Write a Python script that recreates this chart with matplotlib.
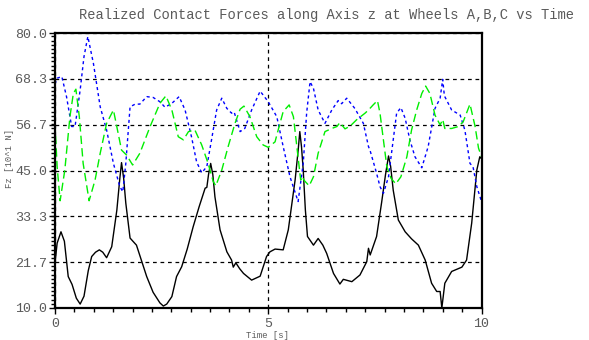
import matplotlib
matplotlib.use("Agg")
import matplotlib.pyplot as plt
from matplotlib.ticker import FixedLocator, AutoMinorLocator, FormatStrFormatter

# Time samples [s] and contact forces [10^1 N]
t_a = [0.00, 0.05, 0.14, 0.22, 0.31, 0.40, 0.50, 0.59, 0.68, 0.78, 0.86, 0.95, 1.04, 1.12,
       1.21, 1.33, 1.45, 1.52, 1.56, 1.61, 1.66, 1.76, 1.91, 2.03, 2.15, 2.30, 2.46, 2.54,
       2.62, 2.74, 2.85, 2.97, 3.10, 3.24, 3.38, 3.52, 3.56, 3.60, 3.65, 3.70, 3.75, 3.87,
       4.03, 4.14, 4.18, 4.24, 4.33, 4.42, 4.61, 4.81, 4.96, 5.04, 5.16, 5.35, 5.47, 5.63,
       5.70, 5.74, 5.78, 5.82, 5.87, 5.92, 6.06, 6.17, 6.28, 6.37, 6.53, 6.68, 6.76, 6.96,
       7.15, 7.31, 7.35, 7.39, 7.54, 7.66, 7.75, 7.82, 7.87, 7.93, 8.05, 8.21, 8.36, 8.52,
       8.68, 8.83, 8.95, 9.03, 9.07, 9.14, 9.30, 9.54, 9.65, 9.77, 9.89, 9.96, 10.00]
fz_a = [21.5, 26.5, 29.4, 27.0, 18.0, 16.0, 12.5, 11.0, 13.0, 19.5, 23.1, 24.2, 24.8, 24.2,
        22.8, 25.6, 34.9, 43.0, 47.0, 43.0, 36.7, 27.8, 26.0, 22.0, 18.0, 14.0, 11.3, 10.5,
        11.0, 12.9, 18.0, 20.5, 25.0, 30.7, 35.8, 40.5, 40.7, 44.0, 46.8, 44.0, 38.3, 29.9,
        24.3, 22.2, 20.4, 21.5, 20.0, 18.8, 17.1, 18.1, 23.1, 24.3, 25.0, 24.8, 29.9, 42.6,
        50.0, 54.9, 51.0, 45.1, 35.0, 28.2, 26.0, 27.7, 26.0, 23.9, 18.8, 16.1, 17.3, 16.7,
        18.4, 21.8, 25.2, 23.5, 28.2, 37.0, 44.0, 48.7, 46.0, 40.0, 32.4, 29.4, 27.6, 26.0,
        22.2, 16.3, 14.2, 14.2, 10.0, 16.3, 19.3, 20.4, 22.2, 31.6, 45.1, 48.5, 48.0]

t_b = [0.00, 0.05, 0.16, 0.27, 0.39, 0.47, 0.59, 0.68, 0.77, 0.90, 1.06, 1.21, 1.37, 1.52,
       1.59, 1.66, 1.76, 1.88, 1.99, 2.15, 2.30, 2.46, 2.58, 2.74, 2.91, 3.05, 3.20, 3.32,
       3.44, 3.56, 3.67, 3.79, 3.91, 4.03, 4.14, 4.20, 4.34, 4.45, 4.61, 4.81, 5.00, 5.20,
       5.35, 5.51, 5.70, 5.82, 5.90, 5.98, 6.06, 6.17, 6.33, 6.49, 6.64, 6.72, 6.84, 7.03,
       7.23, 7.35, 7.39, 7.54, 7.62, 7.70, 7.82, 7.93, 8.01, 8.11, 8.21, 8.32, 8.44, 8.60,
       8.75, 8.91, 9.03, 9.09, 9.13, 9.30, 9.50, 9.61, 9.73, 9.80, 9.89, 10.00]
fz_b = [67.0, 68.5, 68.9, 63.8, 56.2, 56.2, 65.5, 74.0, 79.1, 72.3, 61.2, 55.3, 46.8, 40.9,
        39.6, 46.8, 61.2, 61.9, 61.9, 63.8, 63.6, 62.5, 61.1, 62.1, 63.8, 60.4, 53.6, 47.2,
        44.4, 46.0, 52.8, 60.4, 63.4, 60.8, 59.6, 59.9, 54.9, 55.7, 60.4, 65.2, 62.5, 58.7,
        51.1, 43.4, 37.1, 46.8, 59.6, 67.6, 65.9, 60.4, 57.0, 60.4, 62.8, 62.0, 63.4, 60.8,
        57.0, 51.1, 50.0, 44.3, 40.9, 39.2, 43.4, 52.8, 59.6, 61.0, 58.3, 52.8, 48.5, 45.7,
        51.1, 60.8, 63.4, 68.2, 64.0, 60.4, 59.1, 55.3, 46.8, 46.0, 40.9, 37.1]

t_c = [0.00, 0.05, 0.12, 0.23, 0.35, 0.43, 0.49, 0.57, 0.66, 0.80, 0.94, 1.06, 1.21, 1.37,
       1.48, 1.56, 1.68, 1.82, 1.99, 2.23, 2.46, 2.60, 2.74, 2.89, 3.01, 3.13, 3.28, 3.44,
       3.59, 3.71, 3.77, 3.91, 4.06, 4.22, 4.34, 4.43, 4.57, 4.73, 4.88, 5.00, 5.16, 5.20,
       5.35, 5.49, 5.59, 5.68, 5.76, 5.80, 5.84, 5.96, 6.06, 6.17, 6.33, 6.49, 6.61, 6.68,
       6.80, 6.92, 7.07, 7.27, 7.35, 7.46, 7.56, 7.62, 7.70, 7.78, 7.88, 7.99, 8.11, 8.25,
       8.36, 8.48, 8.60, 8.69, 8.79, 8.91, 9.03, 9.09, 9.14, 9.30, 9.46, 9.57, 9.73, 9.85,
       9.93, 10.00]
fz_c = [57.0, 46.0, 37.3, 45.1, 58.7, 64.6, 65.7, 58.7, 46.8, 37.3, 42.6, 49.4, 57.0, 60.4,
        54.5, 50.2, 48.9, 46.4, 49.4, 56.2, 62.1, 64.0, 60.4, 53.6, 52.8, 54.9, 55.3, 51.5,
        46.8, 42.2, 41.1, 45.1, 51.1, 57.0, 60.6, 61.4, 58.7, 53.6, 51.5, 50.9, 52.3, 54.0,
        60.0, 61.7, 58.7, 50.2, 42.6, 43.5, 42.5, 41.1, 43.4, 49.4, 54.9, 55.7, 56.2, 57.2,
        55.6, 56.3, 57.9, 59.6, 60.4, 61.7, 62.8, 59.6, 52.8, 46.0, 43.0, 41.6, 43.4, 48.5,
        55.3, 60.4, 64.6, 66.5, 64.6, 59.1, 56.6, 58.0, 55.7, 55.7, 56.2, 57.4, 61.9, 56.2,
        50.7, 48.5]

y_ticks = [10.0, 21.7, 33.3, 45.0, 56.7, 68.3, 80.0]
x_ticks = [0, 5, 10]

plt.rcParams['font.family'] = ['Liberation Mono', 'DejaVu Sans Mono']
text_gray = '#5a5a5a'

fig = plt.figure(figsize=(5.89, 3.40), dpi=100)
ax = fig.add_axes([55 / 589, 32 / 340, 426.5 / 589, 275 / 340])

ax.plot(t_a, fz_a, color='black', lw=1.0, solid_joinstyle='round', zorder=3)
ax.plot(t_b, fz_b, color='#0000ff', lw=1.0, linestyle=(0, (2.2, 2.2)), zorder=3)
ax.plot(t_c, fz_c, color='#00ee00', lw=1.0, linestyle=(0, (6, 3)), zorder=3)

ax.set_xlim(0, 10)
ax.set_ylim(10, 80)
ax.xaxis.set_major_locator(FixedLocator(x_ticks))
ax.yaxis.set_major_locator(FixedLocator(y_ticks))
ax.xaxis.set_major_formatter(FormatStrFormatter('%d'))
ax.yaxis.set_major_formatter(FormatStrFormatter('%.1f'))
ax.xaxis.set_minor_locator(AutoMinorLocator(11))
ax.yaxis.set_minor_locator(AutoMinorLocator(11))

ax.grid(True, which='major', color='black', linestyle=(0, (3, 3)), lw=0.9, zorder=1)
for s in ax.spines.values():
    s.set_linewidth(1.6)
    s.set_zorder(4)

ax.tick_params(which='both', direction='out', colors='black', labelcolor=text_gray,
               labelsize=9.6, width=1.0)
ax.tick_params(which='major', length=4, pad=1.5)
ax.tick_params(which='minor', length=3)
ax.tick_params(axis='x', pad=3)

fig.text(79 / 589, 1 - 15 / 340, 'Realized Contact Forces along Axis z at Wheels A,B,C vs Time',
         ha='left', va='center', fontsize=9.9, color=text_gray)
fig.text(268 / 589, 1 - 336 / 340, 'Time [s]', ha='center', va='center',
         fontsize=6.4, color=text_gray)
fig.text(10 / 589, 1 - 158 / 340, 'Fz [10^1 N]', ha='center', va='center', rotation=90,
         fontsize=6.4, color=text_gray)

fig.savefig('out.png', dpi=100)
